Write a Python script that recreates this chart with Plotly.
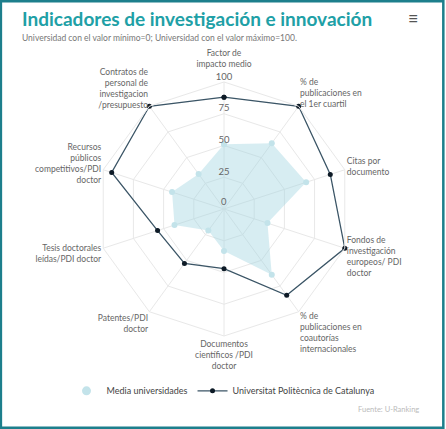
import plotly.graph_objects as go

categorias = [
    "Factor de<br>impacto medio<br> ",
    "% de<br>publicaciones en<br>el 1er cuartil",
    "Citas por<br>documento",
    "Fondos de<br>investigación<br>europeos/ PDI<br>doctor",
    "% de<br>publicaciones en<br>coautorías<br>internacionales",
    "Documentos<br>científicos /PDI<br>doctor",
    "Patentes/PDI<br>doctor",
    "Tesis doctorales<br>leídas/PDI doctor",
    "Recursos<br>públicos<br>competitivos/PDI<br>doctor",
    "Contratos de<br>personal de<br>investigacion<br>/presupuesto",
]
media_universidades = [51, 64, 68, 36, 64, 33, 21, 41, 43, 34]
upc = [88, 100, 88, 100, 84, 47, 53, 55, 93, 100]
ticks_radiales = [0, 25, 50, 75, 100]

dom_x = [0.2175, 0.787]
dom_y = [0.2168, 0.8089]

fig = go.Figure()

# area de la media (cerrada)
fig.add_trace(go.Scatterpolar(
    r=media_universidades + media_universidades[:1],
    theta=categorias + categorias[:1],
    mode="markers", fill="toself",
    fillcolor="rgba(160,212,224,0.42)",
    marker=dict(color="#c3e3ea", size=6),
    line=dict(width=0, color="rgba(0,0,0,0)"),
    name="Media universidades", showlegend=False,
))
# entrada de leyenda de la media
fig.add_trace(go.Scatterpolar(
    r=[None], theta=[categorias[0]], mode="markers",
    marker=dict(color="#c3e3ea", size=9),
    name="Media universidades",
))
fig.add_trace(go.Scatterpolar(
    r=upc + upc[:1],
    theta=categorias + categorias[:1],
    mode="lines+markers",
    line=dict(color="#3b5566", width=1.3),
    marker=dict(color="#0d1a26", size=5),
    name="Universitat Politècnica de Catalunya",
))
# etiquetas del eje radial sobre la primera categoria (el 0 va en el centro, aparte)
fig.add_trace(go.Scatterpolar(
    r=ticks_radiales[1:], theta=[categorias[0]] * (len(ticks_radiales) - 1),
    mode="text", text=[str(t) for t in ticks_radiales[1:]],
    textposition="top center", cliponaxis=False,
    textfont=dict(size=9.5, color="#666666"),
    showlegend=False, hoverinfo="skip",
))

fig.update_layout(
    width=446, height=429,
    margin=dict(l=0, r=0, t=0, b=0),
    paper_bgcolor="white",
    font=dict(family="Lato", color="#666666", size=8),
    polar=dict(
        domain=dict(x=dom_x, y=dom_y),
        bgcolor="white",
        gridshape="linear",
        angularaxis=dict(
            rotation=90, direction="clockwise",
            gridcolor="#e8e8e8", linecolor="#e8e8e8",
            showline=True, ticks="",
            tickfont=dict(size=8.5, color="#666666"),
        ),
        radialaxis=dict(
            range=[0, 100], tickvals=ticks_radiales,
            showticklabels=False, ticks="",
            gridcolor="#e8e8e8", showline=False,
        ),
    ),
    legend=dict(
        orientation="h", x=0.5, xanchor="center", y=0.089, yanchor="middle",
        font=dict(size=9, color="#444444"),
    ),
    annotations=[
        dict(text=str(ticks_radiales[0]), x=sum(dom_x) / 2, y=sum(dom_y) / 2,
             xref="paper", yref="paper", xanchor="center", yanchor="bottom",
             showarrow=False, font=dict(size=9.5, color="#666666")),
        dict(text="<b>Indicadores de investigación e innovación</b>",
             x=0.045, y=0.958, xref="paper", yref="paper",
             xanchor="left", yanchor="middle", showarrow=False,
             font=dict(size=19, color="#20a0a6", family="Lato")),
        dict(text="Universidad con el valor mínimo=0; Universidad con el valor máximo=100.",
             x=0.045, y=0.912, xref="paper", yref="paper",
             xanchor="left", yanchor="middle", showarrow=False,
             font=dict(size=8.5, color="#777777")),
        dict(text="≡", x=0.926, y=0.957, xref="paper", yref="paper",
             xanchor="center", yanchor="middle", showarrow=False,
             font=dict(size=18, color="#555555")),
        dict(text="Fuente: U-Ranking", x=0.943, y=0.046, xref="paper", yref="paper",
             xanchor="right", yanchor="middle", showarrow=False,
             font=dict(size=7.5, color="#bbbbbb")),
    ],
    shapes=[
        dict(type="rect", xref="paper", yref="paper", x0=0.002, x1=0.994,
             y0=0.003, y1=0.997, line=dict(color="#1d7f8c", width=2.5)),
    ],
)

fig.write_html("out.html", config={"displayModeBar": False},
               post_script="document.body.style.margin='0';")
